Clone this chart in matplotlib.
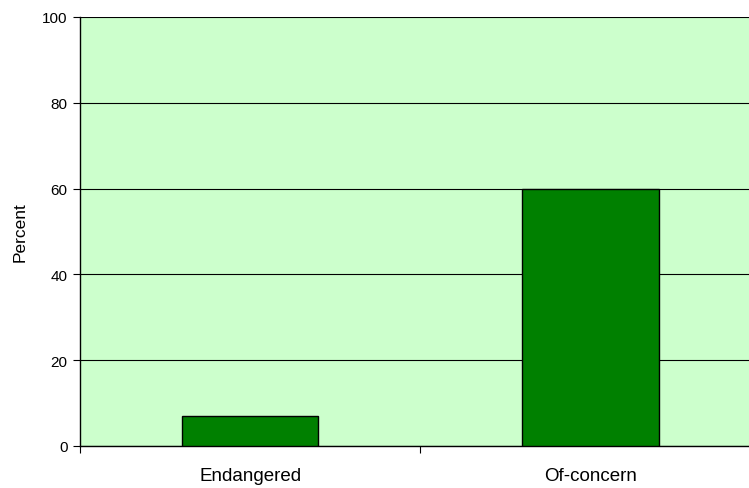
import matplotlib.pyplot as plt

categories = ['Endangered', 'Of-concern']
percent = [7, 60]
yticks = [0, 20, 40, 60, 80, 100]

plt.rcParams['font.family'] = ['Liberation Sans', 'DejaVu Sans']

fig = plt.figure(figsize=(7.49, 4.89), dpi=100)
W, H = 749, 489
left, right, top, bottom = 80, 760.6, 18, 447
ax = fig.add_axes([left / W, 1 - bottom / H, (right - left) / W, (bottom - top) / H])
ax.set_facecolor('#CCFFCC')

x = list(range(len(categories)))
ax.bar(x, percent, width=0.4, color='#008000', edgecolor='black', linewidth=1, zorder=3)

ax.set_xlim(-0.5, len(categories) - 0.5)
ax.set_ylim(0, 100)
ax.set_yticks(yticks)
ax.yaxis.grid(True, color='black', linewidth=0.8, zorder=0)
ax.set_axisbelow(True)

ax.set_xticks([-0.5, 0.5, 1.5])
ax.set_xticklabels([])
ax.set_xticks(x, minor=True)
ax.set_xticklabels(categories, minor=True)
ax.tick_params(axis='x', which='minor', length=0, pad=15, labelsize=13.5)
ax.tick_params(axis='x', which='major', length=5, width=0.8, direction='out')
ax.tick_params(axis='y', length=5, width=0.8, labelsize=11, pad=4)

ax.spines['top'].set_visible(False)
ax.spines['right'].set_visible(False)
ax.spines['left'].set_linewidth(1)
ax.spines['bottom'].set_linewidth(1)

ax.set_ylabel('Percent', fontsize=12.5, labelpad=10)

fig.savefig('out.png', dpi=100)
